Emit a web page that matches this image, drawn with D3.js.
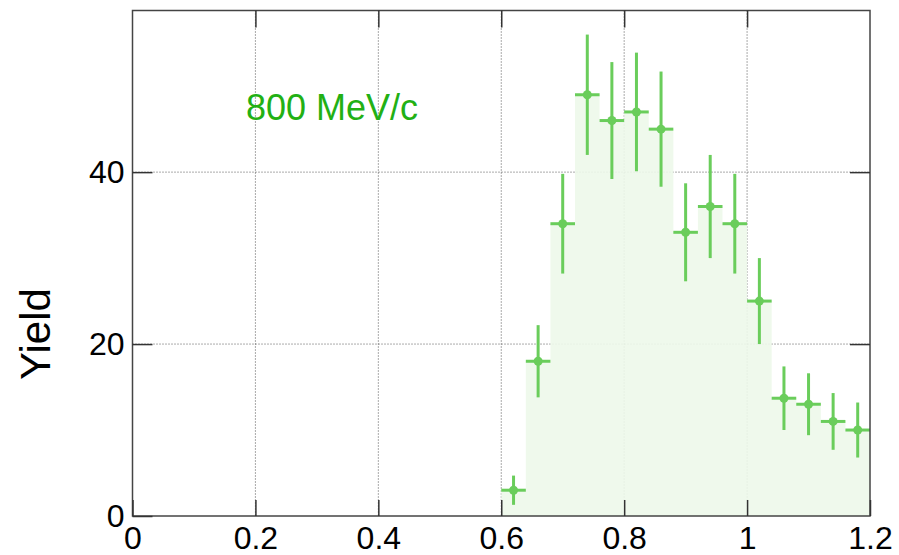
<!DOCTYPE html>
<html>
<head>
<meta charset="utf-8">
<script src="https://cdn.jsdelivr.net/npm/d3@7"></script>
<style>
  body { margin: 0; background: #fff; }
  svg text { font-family: "Liberation Sans", Arial, sans-serif; }
</style>
</head>
<body>
<div id="chart"></div>
<script>
const binCenters = [0.62, 0.66, 0.70, 0.74, 0.78, 0.82, 0.86, 0.90, 0.94, 0.98, 1.02, 1.06, 1.10, 1.14, 1.18]
const yields     = [3, 18, 34, 49, 46, 47, 45, 33, 36, 34, 25, 13.7, 13, 11, 10]
const errors     = [1.7, 4.2, 5.8, 7.0, 6.8, 6.9, 6.7, 5.7, 6.0, 5.8, 5.0, 3.7, 3.6, 3.3, 3.2]
const binWidth = 0.04
const xTicks = [0, 0.2, 0.4, 0.6, 0.8, 1, 1.2]
const yTicks = [0, 20, 40]
const label = "800 MeV/c"

const config = { width: 899, height: 555 }
const margin = { left: 132.5, right: 29, top: 10.5, bottom: 39 }
const width = config.width - margin.left - margin.right
const height = config.height - margin.top - margin.bottom

const green = "#6acd5b"

const svg = d3.select("#chart")
              .append("svg")
              .attr("width", config.width)
              .attr("height", config.height)

const g = svg.append("g")
             .attr("transform", `translate(${margin.left}, ${margin.top})`)

const xScale = d3.scaleLinear().domain([0, 1.2]).range([0, width])
const yScale = d3.scaleLinear().domain([0, 58.8]).range([height, 0])

// grid
g.append("g")
 .selectAll("line")
 .data(xTicks.slice(1, -1))
 .join("line")
 .attr("x1", d => xScale(d)).attr("x2", d => xScale(d))
 .attr("y1", 0).attr("y2", height)
 .attr("stroke", "#555").attr("stroke-width", 1)
 .attr("stroke-dasharray", "1,2")

g.append("g")
 .selectAll("line")
 .data(yTicks.slice(1))
 .join("line")
 .attr("x1", 0).attr("x2", width)
 .attr("y1", d => yScale(d)).attr("y2", d => yScale(d))
 .attr("stroke", "#555").attr("stroke-width", 1)
 .attr("stroke-dasharray", "1,2")

// histogram fill
const area = d3.area()
               .curve(d3.curveStepAfter)
               .x(d => xScale(d[0]))
               .y0(yScale(0))
               .y1(d => yScale(d[1]))
const steps = binCenters.map((c, i) => [c - binWidth / 2, yields[i]])
steps.push([binCenters[binCenters.length - 1] + binWidth / 2, yields[yields.length - 1]])

g.append("path")
 .datum(steps)
 .attr("d", area)
 .attr("fill", "#edf8ea")
 .attr("fill-opacity", 0.9)

// text label
svg.append("text")
 .attr("x", 246)
 .attr("y", 119.5)
 .attr("fill", "#22b014")
 .attr("font-size", 36)
 .text(label)

// error bars
const pts = g.append("g")
  .selectAll("g")
  .data(binCenters.map((c, i) => ({ x: c, y: yields[i], e: errors[i] })))
  .join("g")

pts.append("line")
   .attr("x1", d => xScale(d.x)).attr("x2", d => xScale(d.x))
   .attr("y1", d => yScale(d.y + d.e)).attr("y2", d => yScale(d.y - d.e))
   .attr("stroke", green).attr("stroke-width", 3)

pts.append("line")
   .attr("x1", d => xScale(d.x - binWidth / 2)).attr("x2", d => xScale(d.x + binWidth / 2))
   .attr("y1", d => yScale(d.y)).attr("y2", d => yScale(d.y))
   .attr("stroke", green).attr("stroke-width", 3)

pts.append("circle")
   .attr("cx", d => xScale(d.x)).attr("cy", d => yScale(d.y))
   .attr("r", 4.5)
   .attr("fill", green)

// frame
g.append("rect")
 .attr("width", width).attr("height", height)
 .attr("fill", "none").attr("stroke", "#444").attr("stroke-width", 1.5)

// ticks
const xAxis = d3.axisBottom(xScale).tickValues(xTicks).tickSize(-16)
                .tickFormat(d => d3.format("")(+d.toFixed(1)))
const yAxis = d3.axisLeft(yScale).tickValues(yTicks).tickSize(-20).tickPadding(8)

const xa = g.append("g")
  .attr("transform", `translate(0, ${height})`)
  .call(xAxis)
xa.select(".domain").remove()
xa.selectAll("line").attr("stroke", "#333").attr("stroke-width", 1.5)
xa.selectAll("text")
  .attr("y", 33).attr("dy", 0)
  .attr("font-size", 32).attr("fill", "#000")
  .attr("font-family", "Liberation Sans, Arial, sans-serif")

g.append("g")
 .call(d3.axisTop(xScale).tickValues(xTicks.slice(1, -1)).tickSize(-17).tickFormat(""))
 .call(s => s.select(".domain").remove())
 .selectAll("line").attr("stroke", "#333").attr("stroke-width", 1.5)

const ya = g.append("g").call(yAxis)
ya.select(".domain").remove()
ya.selectAll("line").attr("stroke", "#333").attr("stroke-width", 1.5)
ya.selectAll("text")
  .attr("font-size", 32).attr("fill", "#000")
  .attr("font-family", "Liberation Sans, Arial, sans-serif")

g.append("g")
 .attr("transform", `translate(${width}, 0)`)
 .call(d3.axisRight(yScale).tickValues(yTicks.slice(1)).tickSize(-20).tickFormat(""))
 .call(s => s.select(".domain").remove())
 .selectAll("line").attr("stroke", "#333").attr("stroke-width", 1.5)

// y axis title
svg.append("text")
   .attr("transform", `translate(50, 334) rotate(-90)`)
   .attr("text-anchor", "middle")
   .attr("font-size", 42)
   .attr("fill", "#000")
   .text("Yield")
</script>
</body>
</html>
